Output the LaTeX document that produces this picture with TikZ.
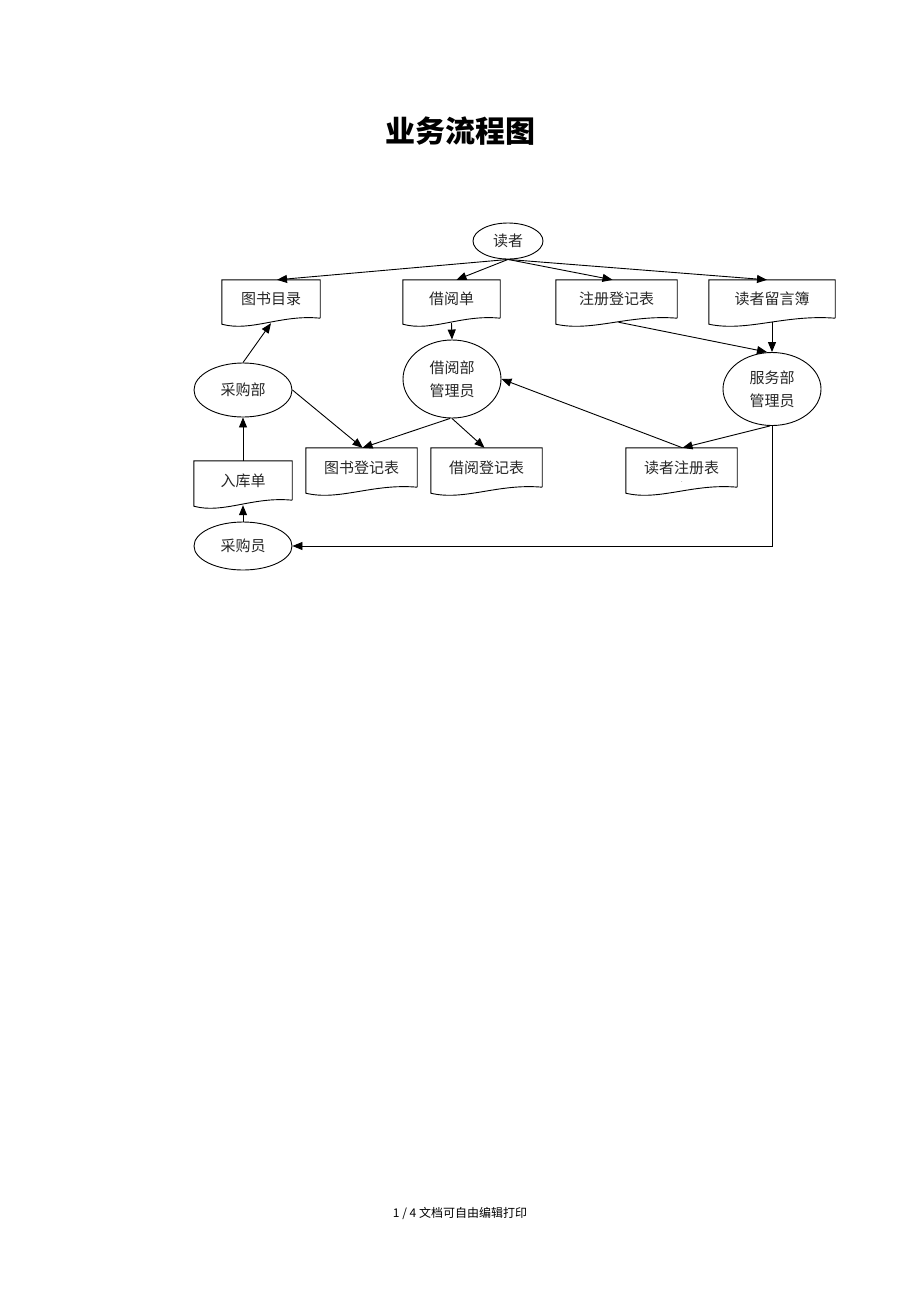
\documentclass[tikz,border=0pt]{standalone}
\usepackage{fontspec}
\newfontfamily\cjk{Noto Sans CJK SC}
\usetikzlibrary{shapes.geometric,arrows.meta,calc}
\tikzset{
  base/.style={font=\cjk\fontsize{15}{23}\selectfont, text=black!85, inner sep=0pt, align=center},
  ell/.style={base, ellipse, draw, line width=0.9pt},
  docbox/.style={base, rectangle, draw=none},
  docline/.style={line width=0.9pt},
  arr/.style={line width=0.9pt, -{Triangle[length=10pt,width=8pt]}},
}
\newcommand\docpath[1]{%
  \draw[docline] (#1.south east) -- (#1.north east) -- (#1.north west) -- ([yshift=-6pt]#1.south west)
   .. controls ($(#1.south west)!0.3!(#1.south east)+(0,-14pt)$) and ($(#1.south west)!0.6!(#1.south east)+(0,4pt)$) .. (#1.south east);}
\begin{document}
\begin{tikzpicture}[x=1pt,y=-1pt]
\useasboundingbox (0,0) rectangle (920,1302);
\fill[white] (0,0) rectangle (920,1302);
% title
\node[font=\cjk\bfseries\fontsize{30}{34}\selectfont, inner sep=0pt] (title) at (460,131) {业务流程图};
% ellipses
\node[ell, minimum width=70pt, minimum height=36pt] (dz) at (508,241) {读者};
\node[ell, minimum width=98pt, minimum height=78pt] (jyg) at (452,379) {借阅部\\管理员};
\node[ell, minimum width=98pt, minimum height=73pt] (fwg) at (772,389) {服务部\\管理员};
\node[ell, minimum width=98pt, minimum height=54pt] (cgb) at (243,390) {采购部};
\node[ell, minimum width=98pt, minimum height=48pt] (cgy) at (243,546) {采购员};
% documents
\node[docbox, minimum width=98pt, minimum height=38pt] (tsml) at (271,299) {图书目录};
\node[docbox, minimum width=97pt, minimum height=38pt] (jyd) at (451.5,299) {借阅单};
\node[docbox, minimum width=121pt, minimum height=38pt] (zcdjb) at (616.5,299) {注册登记表};
\node[docbox, minimum width=126pt, minimum height=38pt] (dzlyb) at (772,299) {读者留言簿};
\node[docbox, minimum width=98pt, minimum height=39pt] (rkd) at (243,480.5) {入库单};
\node[docbox, minimum width=111pt, minimum height=39pt] (tsdjb) at (361.5,467.5) {图书登记表};
\node[docbox, minimum width=111pt, minimum height=39pt] (jydjb) at (486.5,467.5) {借阅登记表};
\node[docbox, minimum width=111pt, minimum height=39pt] (dzzcb) at (681.5,467.5) {读者注册表};
\node[font=\fontsize{6}{6}\selectfont, inner sep=0pt] (dot) at (682,482) {.};
\docpath{tsml}\docpath{jyd}\docpath{zcdjb}\docpath{dzlyb}
\docpath{rkd}\docpath{tsdjb}\docpath{jydjb}\docpath{dzzcb}
% connectors
\draw[arr] (dz.south) -- ([xshift=6pt]tsml.north);
\draw[arr] (dz.south) -- ([xshift=5pt]jyd.north);
\draw[arr] (dz.south) -- ([xshift=-4pt]zcdjb.north);
\draw[arr] (dz.south) -- ([xshift=-5pt]dzlyb.north);
\draw[arr] ([yshift=-5pt]jyd.south) -- (jyg.north);
\draw[arr] ([xshift=2pt,yshift=-4pt]zcdjb.south) -- ([xshift=-5pt]fwg.north);
\draw[arr] ([yshift=-4pt]dzlyb.south) -- (fwg.north);
\draw[arr] (cgb.north) -- ([yshift=-5pt]tsml.south);
\draw[arr] (rkd.north) -- (cgb.south);
\draw[arr] (cgy.north) -- ([yshift=-5pt]rkd.south);
\draw[arr] (cgb.east) -- ([xshift=1pt]tsdjb.north);
\draw[arr] ([xshift=-2pt]jyg.south) -- ([xshift=1pt]tsdjb.north);
\draw[arr] (jyg.south) -- ([xshift=-2pt]jydjb.north);
\draw[arr] ([xshift=1pt]dzzcb.north) -- (jyg.east);
\draw[arr] ([xshift=-2pt]fwg.south) -- ([xshift=1pt]dzzcb.north);
\draw[arr] (fwg.south) |- (cgy.east);
% footer
\node[font=\cjk\fontsize{12}{14}\selectfont, inner sep=0pt] (footer) at (460,1213) {1 / 4 文档可自由编辑打印};
\end{tikzpicture}
\end{document}
